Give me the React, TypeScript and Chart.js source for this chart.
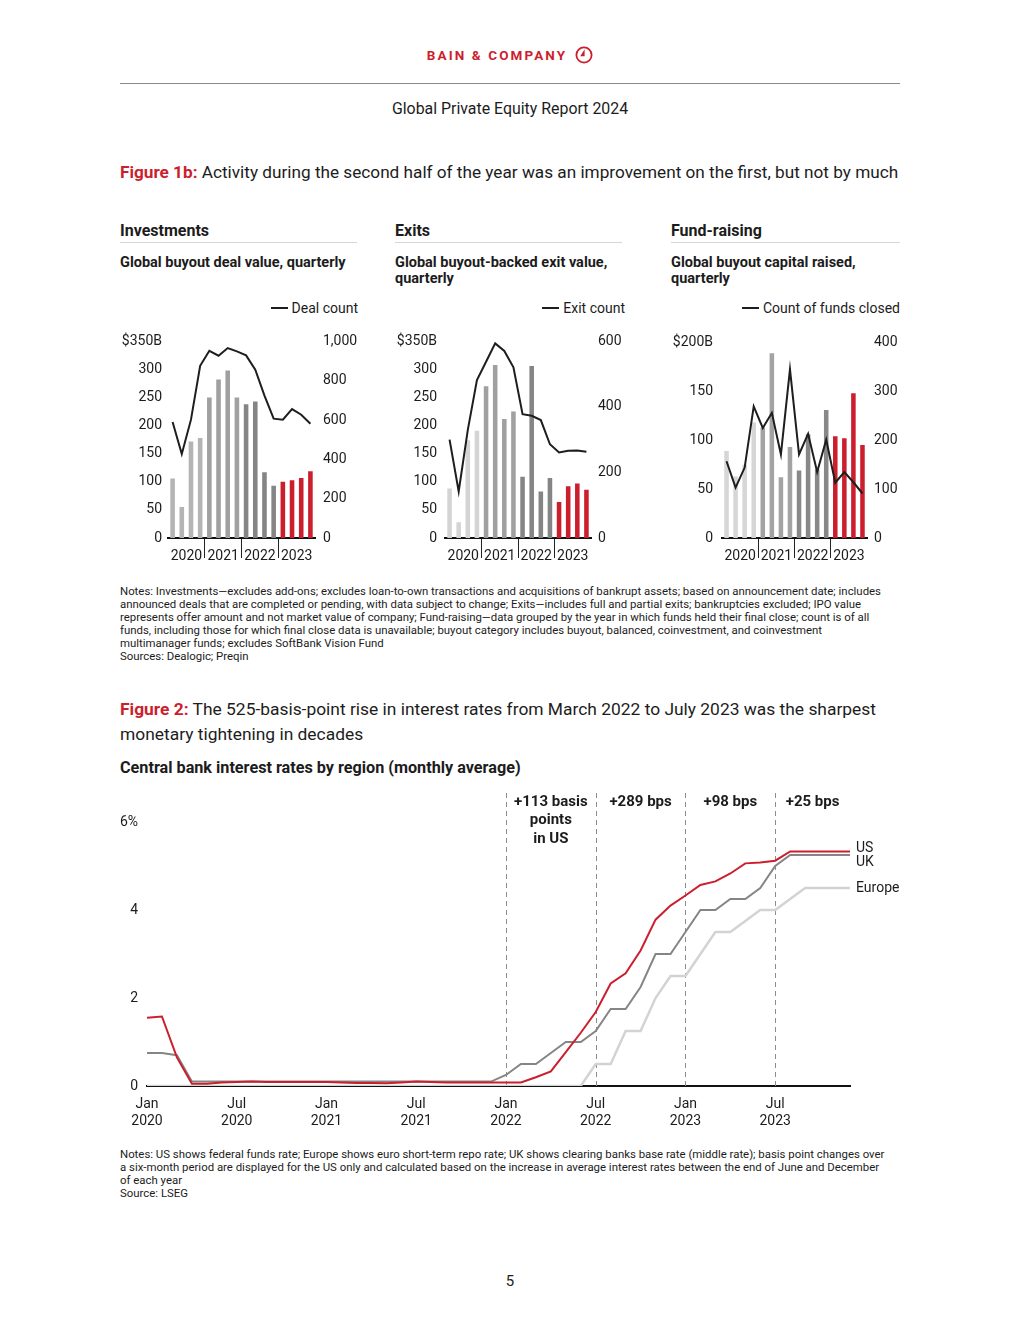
import React, { useEffect, useRef } from 'react';
import { Chart, registerables } from 'chart.js';

Chart.register(...registerables);

const FONT = 'Roboto, "Liberation Sans", Arial, sans-serif';
const RED = '#cc1f2e';
const INK = '#1c1c1c';

// ---------- Figure 1b data ----------
const QUARTERS = [
  'Q1 2020', 'Q2 2020', 'Q3 2020', 'Q4 2020',
  'Q1 2021', 'Q2 2021', 'Q3 2021', 'Q4 2021',
  'Q1 2022', 'Q2 2022', 'Q3 2022', 'Q4 2022',
  'Q1 2023', 'Q2 2023', 'Q3 2023', 'Q4 2023',
];
const YEARS = ['2020', '2021', '2022', '2023'];

const INVEST_VALUE = [106, 55, 172, 178, 250, 282, 298, 250, 238, 243, 117, 93, 100, 103, 107, 119];
const INVEST_COUNT = [590, 427, 602, 876, 952, 927, 966, 949, 929, 856, 724, 607, 602, 656, 627, 581];

const EXIT_VALUE = [88, 28, 174, 191, 270, 308, 212, 225, 109, 306, 83, 107, 64, 92, 97, 86];
const EXIT_COUNT = [300, 142, 330, 482, 538, 594, 571, 521, 378, 373, 360, 286, 261, 266, 267, 263];

const FUND_VALUE = [89, 63, 75, 118, 113, 189, 62, 93, 69, 106, 70, 131, 104, 102, 148, 95];
const FUND_COUNT = [157, 103, 144, 269, 225, 256, 171, 345, 171, 213, 135, 201, 113, 135, 114, 91];

// ---------- Figure 2 data ----------
const MONTHS = ['Jan', 'Feb', 'Mar', 'Apr', 'May', 'Jun', 'Jul', 'Aug', 'Sep', 'Oct', 'Nov', 'Dec'];
const RATE_YEARS = ['2020', '2021', '2022', '2023'];
const MONTH_LABELS = RATE_YEARS.flatMap((y) => MONTHS.map((m) => `${m} ${y}`));

const US_RATE = [
  1.55, 1.58, 0.65, 0.05, 0.05, 0.08, 0.09, 0.10, 0.09, 0.09, 0.09, 0.09,
  0.09, 0.08, 0.07, 0.07, 0.06, 0.08, 0.10, 0.09, 0.08, 0.08, 0.08, 0.08,
  0.08, 0.08, 0.20, 0.33, 0.77, 1.21, 1.68, 2.33, 2.56, 3.08, 3.78, 4.10,
  4.33, 4.57, 4.65, 4.83, 5.06, 5.08, 5.12, 5.33, 5.33, 5.33, 5.33, 5.33,
];
const UK_RATE = [
  0.75, 0.75, 0.70, 0.10, 0.10, 0.10, 0.10, 0.10, 0.10, 0.10, 0.10, 0.10,
  0.10, 0.10, 0.10, 0.10, 0.10, 0.10, 0.10, 0.10, 0.10, 0.10, 0.10, 0.10,
  0.25, 0.50, 0.50, 0.75, 1.00, 1.00, 1.25, 1.75, 1.75, 2.25, 3.00, 3.00,
  3.50, 4.00, 4.00, 4.25, 4.25, 4.50, 5.00, 5.25, 5.25, 5.25, 5.25, 5.25,
];
const EUROPE_RATE = [
  0, 0, 0, 0, 0, 0, 0, 0, 0, 0, 0, 0,
  0, 0, 0, 0, 0, 0, 0, 0, 0, 0, 0, 0,
  0, 0, 0, 0, 0, 0, 0.50, 0.50, 1.25, 1.25, 2.00, 2.50,
  2.50, 3.00, 3.50, 3.50, 3.75, 4.00, 4.00, 4.25, 4.50, 4.50, 4.50, 4.50,
];
const SERIES_NAMES = ['US', 'UK', 'Europe'];
const PERIOD_MARKS = ['Jan 2022', 'Jul 2022', 'Jan 2023', 'Jul 2023'];
const PERIOD_NOTES = [
  { from: 'Jan 2022', to: 'Jul 2022', lines: ['+113 basis', 'points', 'in US'] },
  { from: 'Jul 2022', to: 'Jan 2023', lines: ['+289 bps'] },
  { from: 'Jan 2023', to: 'Jul 2023', lines: ['+98 bps'] },
  { from: 'Jul 2023', to: 'Dec 2023', lines: ['+25 bps'] },
];

// ---------- styles ----------
const INVEST_COLORS = ['#b4b4b4', '#a0a0a0', '#858585', RED];
const EXIT_COLORS = ['#d4d4d4', '#a0a0a0', '#858585', RED];
const FUND_COLORS = ['#d6d6d6', '#a3a3a3', '#888888', RED];
const RATE_COLORS = [RED, '#858585', '#d3d3d3'];
const LABEL_DY = [-3, 7, 0];

type PanelProps = {
  left: number; top: number; width: number; height: number;
  values: number[]; counts: number[]; colors: string[];
  leftMax: number; leftStep: number; rightMax: number; rightStep: number;
  yWidth: number; yPad: number; y1Width: number; y1Pad: number;
  padTop: number; xHeight: number;
};

function PanelChart(p: PanelProps) {
  const ref = useRef<HTMLCanvasElement>(null);
  useEffect(() => {
    const tickFont = { family: FONT, size: 14 };
    const chart = new Chart(ref.current as HTMLCanvasElement, {
      type: 'bar',
      data: {
        labels: QUARTERS,
        datasets: [
          {
            type: 'line', data: p.counts, yAxisID: 'y1', xAxisID: 'x',
            borderColor: '#1e1e1e', borderWidth: 2, pointRadius: 0, tension: 0, order: 0,
          } as any,
          {
            type: 'bar', data: p.values, yAxisID: 'y', xAxisID: 'x',
            backgroundColor: p.values.map((_, i) => p.colors[Math.floor(i / 4)]),
            barPercentage: 0.5, categoryPercentage: 1, order: 1,
          } as any,
        ],
      },
      options: {
        responsive: false,
        animation: false,
        layout: { padding: { top: p.padTop, left: 0, right: 0, bottom: 0 } },
        plugins: { legend: { display: false }, tooltip: { enabled: false } },
        scales: {
          x: { display: false, offset: true },
          x2: {
            type: 'category', labels: YEARS, position: 'bottom', offset: true,
            grid: {
              offset: true, drawOnChartArea: false, drawTicks: true, tickLength: 20, lineWidth: 1,
              color: (c: any) => (c.index > 0 && c.index < 4 ? '#222' : 'rgba(0,0,0,0)'),
            },
            border: { display: true, color: '#111', width: 2 },
            ticks: { padding: -10, font: tickFont, color: INK, maxRotation: 0, autoSkip: false },
            afterFit: (s: any) => { s.height = p.xHeight; },
          },
          y: {
            position: 'left', min: 0, max: p.leftMax,
            grid: { display: false, drawTicks: false }, border: { display: false },
            ticks: {
              stepSize: p.leftStep, padding: p.yPad, font: tickFont, color: INK,
              callback: (v: any) => (v === p.leftMax ? `$${v}B` : `${v}`),
            },
            afterFit: (s: any) => { s.width = p.yWidth; },
          },
          y1: {
            position: 'right', min: 0, max: p.rightMax,
            grid: { display: false, drawTicks: false }, border: { display: false },
            ticks: {
              stepSize: p.rightStep, padding: p.y1Pad, font: tickFont, color: INK,
              callback: (v: any) => Number(v).toLocaleString('en-US'),
            },
            afterFit: (s: any) => { s.width = p.y1Width; },
          },
        },
      } as any,
    });
    return () => chart.destroy();
  }, []);
  return (
    <canvas
      ref={ref}
      width={p.width}
      height={p.height}
      style={{ position: 'absolute', left: p.left, top: p.top, width: p.width, height: p.height }}
    />
  );
}

function RatesChart() {
  const ref = useRef<HTMLCanvasElement>(null);
  useEffect(() => {
    const overlay = {
      id: 'rateOverlay',
      beforeDatasetsDraw(chart: any) {
        const { ctx, chartArea, scales } = chart;
        const topY = scales.y.getPixelForValue(6) - 29;
        ctx.save();
        ctx.strokeStyle = '#8c8c8c';
        ctx.lineWidth = 1;
        ctx.setLineDash([5, 4]);
        PERIOD_MARKS.forEach((m) => {
          const x = Math.round(scales.x.getPixelForValue(MONTH_LABELS.indexOf(m))) + 0.5;
          ctx.beginPath();
          ctx.moveTo(x, topY);
          ctx.lineTo(x, chartArea.bottom);
          ctx.stroke();
        });
        ctx.restore();
      },
      afterDatasetsDraw(chart: any) {
        const { ctx, chartArea, scales } = chart;
        ctx.save();
        ctx.fillStyle = INK;
        ctx.textAlign = 'center';
        ctx.textBaseline = 'middle';
        ctx.font = `bold 15px ${FONT}`;
        const baseY = scales.y.getPixelForValue(6) - 20;
        PERIOD_NOTES.forEach((n) => {
          const x0 = scales.x.getPixelForValue(MONTH_LABELS.indexOf(n.from));
          const x1 = scales.x.getPixelForValue(MONTH_LABELS.indexOf(n.to));
          n.lines.forEach((line, i) => ctx.fillText(line, (x0 + x1) / 2, baseY + i * 18.5));
        });
        ctx.font = `14px ${FONT}`;
        ctx.textAlign = 'left';
        chart.data.datasets.forEach((ds: any, i: number) => {
          const last = ds.data[ds.data.length - 1];
          ctx.fillText(SERIES_NAMES[i], chartArea.right + 6, scales.y.getPixelForValue(last) + LABEL_DY[i]);
        });
        ctx.restore();
      },
    };
    const chart = new Chart(ref.current as HTMLCanvasElement, {
      type: 'line',
      data: {
        labels: MONTH_LABELS,
        datasets: [US_RATE, UK_RATE, EUROPE_RATE].map((d, i) => ({
          label: SERIES_NAMES[i], data: d, borderColor: RATE_COLORS[i],
          borderWidth: i === 2 ? 2.5 : 2, pointRadius: 0, tension: 0,
        })),
      },
      options: {
        responsive: false,
        animation: false,
        layout: { padding: { top: 32, right: 62, left: 0, bottom: 0 } },
        plugins: { legend: { display: false }, tooltip: { enabled: false } },
        scales: {
          x: {
            type: 'category', offset: false,
            grid: { display: false, drawTicks: false },
            border: { display: true, color: '#111', width: 2 },
            ticks: {
              autoSkip: false, maxRotation: 0, padding: 10, color: INK,
              font: { family: FONT, size: 14 },
              callback: (v: any, i: number) => (i % 6 === 0 ? MONTH_LABELS[i].split(' ') : ''),
            },
            afterFit: (s: any) => { s.height = 54; },
          },
          y: {
            min: 0, max: 6,
            grid: { display: false, drawTicks: false }, border: { display: false },
            ticks: {
              stepSize: 2, padding: 9, color: INK, font: { family: FONT, size: 14 },
              callback: (v: any) => (v === 6 ? '6%' : `${v}`),
            },
            afterFit: (s: any) => { s.width = 35; },
          },
        },
      } as any,
      plugins: [overlay],
    });
    return () => chart.destroy();
  }, []);
  return (
    <canvas
      ref={ref}
      width={800}
      height={350}
      style={{ position: 'absolute', left: 112, top: 790, width: 800, height: 350 }}
    />
  );
}

type TProps = {
  x: number; cy: number; size?: number; weight?: number; color?: string;
  align?: 'left' | 'center'; lh?: number; children: React.ReactNode; ls?: number;
};
function T({ x, cy, size = 14, weight = 400, color = INK, align = 'left', lh, children, ls = 0 }: TProps) {
  const lineH = lh ?? Math.round(size * 1.25);
  return (
    <div
      style={{
        position: 'absolute', left: x, top: cy - lineH / 2, fontSize: size, fontWeight: weight,
        color, lineHeight: `${lineH}px`, whiteSpace: 'nowrap', letterSpacing: ls,
        transform: align === 'center' ? 'translateX(-50%)' : undefined,
      }}
    >
      {children}
    </div>
  );
}

function Legend({ right, cy, label }: { right: number; cy: number; label: string }) {
  return (
    <div
      style={{
        position: 'absolute', right: 1020 - right, top: cy - 9, height: 18, display: 'flex',
        alignItems: 'center', gap: 4, fontSize: 14, color: INK, whiteSpace: 'nowrap',
      }}
    >
      <div style={{ width: 17, height: 2, background: '#1e1e1e' }} />
      <span>{label}</span>
    </div>
  );
}

const NOTES_1 = [
  'Notes: Investments—excludes add-ons; excludes loan-to-own transactions and acquisitions of bankrupt assets; based on announcement date; includes',
  'announced deals that are completed or pending, with data subject to change; Exits—includes full and partial exits; bankruptcies excluded; IPO value',
  'represents offer amount and not market value of company; Fund-raising—data grouped by the year in which funds held their final close; count is of all',
  'funds, including those for which final close data is unavailable; buyout category includes buyout, balanced, coinvestment, and coinvestment',
  'multimanager funds; excludes SoftBank Vision Fund',
  'Sources: Dealogic; Preqin',
];
const NOTES_2 = [
  'Notes: US shows federal funds rate; Europe shows euro short-term repo rate; UK shows clearing banks base rate (middle rate); basis point changes over',
  'a six-month period are displayed for the US only and calculated based on the increase in average interest rates between the end of June and December',
  'of each year',
  'Source: LSEG',
];

export default function App() {
  const panels = [
    { x: 120, lineEnd: 357, title: 'Investments', sub: ['Global buyout deal value, quarterly'], legend: 'Deal count', legendRight: 358 },
    { x: 395, lineEnd: 622, title: 'Exits', sub: ['Global buyout-backed exit value,', 'quarterly'], legend: 'Exit count', legendRight: 625 },
    { x: 671, lineEnd: 900, title: 'Fund-raising', sub: ['Global buyout capital raised,', 'quarterly'], legend: 'Count of funds closed', legendRight: 900 },
  ];
  return (
    <div
      style={{
        position: 'absolute', left: 0, top: 0, width: 1020, height: 1320, background: '#fff',
        fontFamily: FONT, color: INK, overflow: 'hidden',
      }}
    >
      <div
        style={{
          position: 'absolute', left: 0, width: 1020, top: 45, height: 20, display: 'flex',
          justifyContent: 'center', alignItems: 'center', gap: 8,
        }}
      >
        <span style={{ color: RED, fontWeight: 700, fontSize: 13.5, letterSpacing: 2.1 }}>BAIN &amp; COMPANY</span>
        <svg width="18" height="18" viewBox="0 0 18 18">
          <circle cx="9" cy="9" r="7.6" fill="none" stroke={RED} strokeWidth="1.8" />
          <path d="M9.6 3.2 L9.6 10.2 L5.2 10.2 Z" fill={RED} />
        </svg>
      </div>
      <div style={{ position: 'absolute', left: 120, top: 83, width: 780, height: 1, background: '#8a8a8a' }} />
      <T x={510} cy={109} size={15.9} align="center">Global Private Equity Report 2024</T>

      <T x={120} cy={172} size={17.2}>
        <span style={{ color: RED, fontWeight: 700 }}>Figure 1b:</span> Activity during the second half of the year was an improvement on the first, but not by much
      </T>

      {panels.map((pn) => (
        <React.Fragment key={pn.title}>
          <T x={pn.x} cy={231} size={16} weight={700}>{pn.title}</T>
          <div style={{ position: 'absolute', left: pn.x, top: 242, width: pn.lineEnd - pn.x, height: 1, background: '#d6d6d6' }} />
          {pn.sub.map((s, i) => (
            <T key={s} x={pn.x} cy={263 + i * 16} size={14.5} weight={700}>{s}</T>
          ))}
          <Legend right={pn.legendRight} cy={308} label={pn.legend} />
        </React.Fragment>
      ))}

      <PanelChart
        left={115} top={325} width={250} height={240}
        values={INVEST_VALUE} counts={INVEST_COUNT} colors={INVEST_COLORS}
        leftMax={350} leftStep={50} rightMax={1000} rightStep={200}
        yWidth={53} yPad={6} y1Width={50} y1Pad={8} padTop={16} xHeight={27}
      />
      <PanelChart
        left={390} top={325} width={250} height={240}
        values={EXIT_VALUE} counts={EXIT_COUNT} colors={EXIT_COLORS}
        leftMax={350} leftStep={50} rightMax={600} rightStep={200}
        yWidth={55} yPad={8} y1Width={49} y1Pad={7} padTop={16} xHeight={27}
      />
      <PanelChart
        left={665} top={325} width={250} height={240}
        values={FUND_VALUE} counts={FUND_COUNT} colors={FUND_COLORS}
        leftMax={200} leftStep={50} rightMax={400} rightStep={100}
        yWidth={57} yPad={9} y1Width={48} y1Pad={7} padTop={16} xHeight={27}
      />

      {NOTES_1.map((l, i) => (
        <T key={i} x={120} cy={591 + i * 13} size={11.4} lh={13}>{l}</T>
      ))}

      <T x={120} cy={709} size={17.4}>
        <span style={{ color: RED, fontWeight: 700 }}>Figure 2:</span> The 525-basis-point rise in interest rates from March 2022 to July 2023 was the sharpest
      </T>
      <T x={120} cy={734} size={17.4}>monetary tightening in decades</T>
      <T x={120} cy={768} size={16.2} weight={700}>Central bank interest rates by region (monthly average)</T>

      <RatesChart />

      {NOTES_2.map((l, i) => (
        <T key={i} x={120} cy={1154 + i * 13} size={11.4} lh={13}>{l}</T>
      ))}

      <T x={510} cy={1281} size={15} align="center">5</T>
    </div>
  );
}
